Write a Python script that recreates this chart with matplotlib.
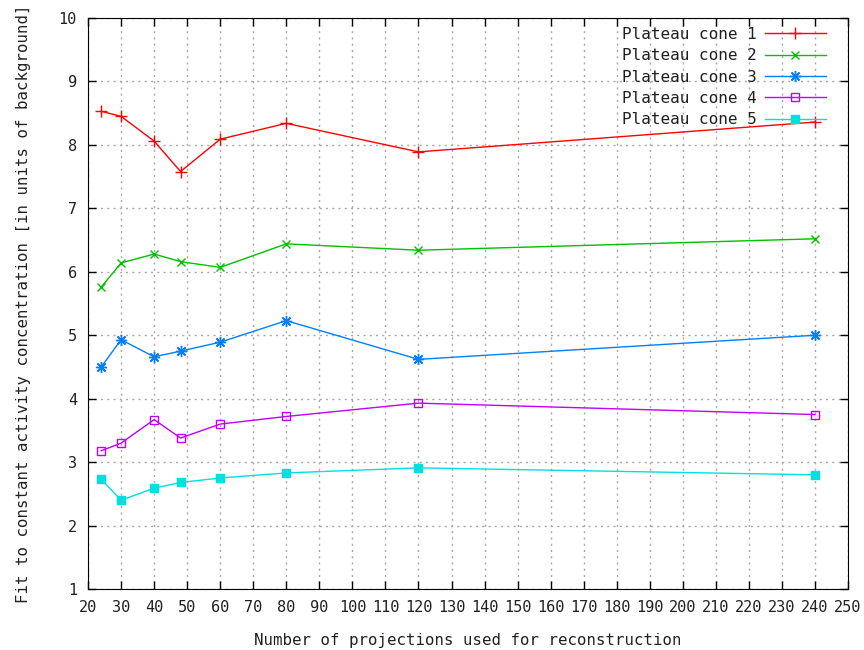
import matplotlib
matplotlib.use("Agg")
import matplotlib.pyplot as plt

# number of projections
projections = [24, 30, 40, 48, 60, 80, 120, 240]

# fit values per plateau cone
cone1 = [8.53, 8.45, 8.06, 7.58, 8.09, 8.34, 7.89, 8.36]
cone2 = [5.76, 6.14, 6.28, 6.16, 6.07, 6.44, 6.34, 6.52]
cone3 = [4.50, 4.93, 4.66, 4.75, 4.89, 5.23, 4.62, 5.00]
cone4 = [3.18, 3.30, 3.67, 3.38, 3.60, 3.72, 3.93, 3.75]
cone5 = [2.73, 2.40, 2.59, 2.68, 2.75, 2.83, 2.91, 2.80]

labels = ["Plateau cone 1", "Plateau cone 2", "Plateau cone 3",
          "Plateau cone 4", "Plateau cone 5"]
xticks = list(range(20, 251, 10))
yticks = list(range(1, 11))

plt.rcParams['font.family'] = ['DejaVu Sans Mono']
plt.rcParams['font.size'] = 11.3
plt.rcParams['text.color'] = '#202020'
plt.rcParams['axes.labelcolor'] = '#202020'
plt.rcParams['xtick.labelcolor'] = '#202020'
plt.rcParams['ytick.labelcolor'] = '#202020'

fig = plt.figure(figsize=(8.64, 6.5), dpi=100)
ax = fig.add_axes([0.1019, 0.0938, 0.8796, 0.8785])

ax.plot(projections, cone1, color='#ff0000', marker='+', ms=8, mew=1, lw=1, label=labels[0])
ax.plot(projections, cone2, color='#00c000', marker='x', ms=6, mew=1, lw=1, label=labels[1])
ax.plot(projections, cone3, color='#0080ff', marker=(8, 2, 0), ms=8, mew=1, lw=1, label=labels[2])
ax.plot(projections, cone4, color='#c000ff', marker='s', ms=6, mew=1, mfc='none', lw=1, label=labels[3])
ax.plot(projections, cone5, color='#00e0e0', marker='s', ms=6, mew=1, lw=1, label=labels[4])

ax.set_xlim(20, 250)
ax.set_ylim(1, 10)
ax.set_xticks(xticks)
ax.set_yticks(yticks)
ax.tick_params(direction='in', top=True, right=True, length=6, width=1, pad=8,
               labelsize=11)
ax.grid(True, color='#a8a8a8', linestyle=(0, (1.5, 3)), linewidth=1)

ax.set_xlabel('Number of projections used for reconstruction', labelpad=13)
ax.set_ylabel('Fit to constant activity concentration [in units of background]', labelpad=20)

leg = ax.legend(loc='upper right', frameon=False, markerfirst=False,
                handlelength=3.8, labelspacing=0.4, borderaxespad=0.35,
                handletextpad=0.5, borderpad=0.2, fontsize=11.5,
                bbox_to_anchor=(0.982, 1.0))
for t in leg.get_texts():
    t.set_ha('right')

fig.savefig('out.png', dpi=100)
